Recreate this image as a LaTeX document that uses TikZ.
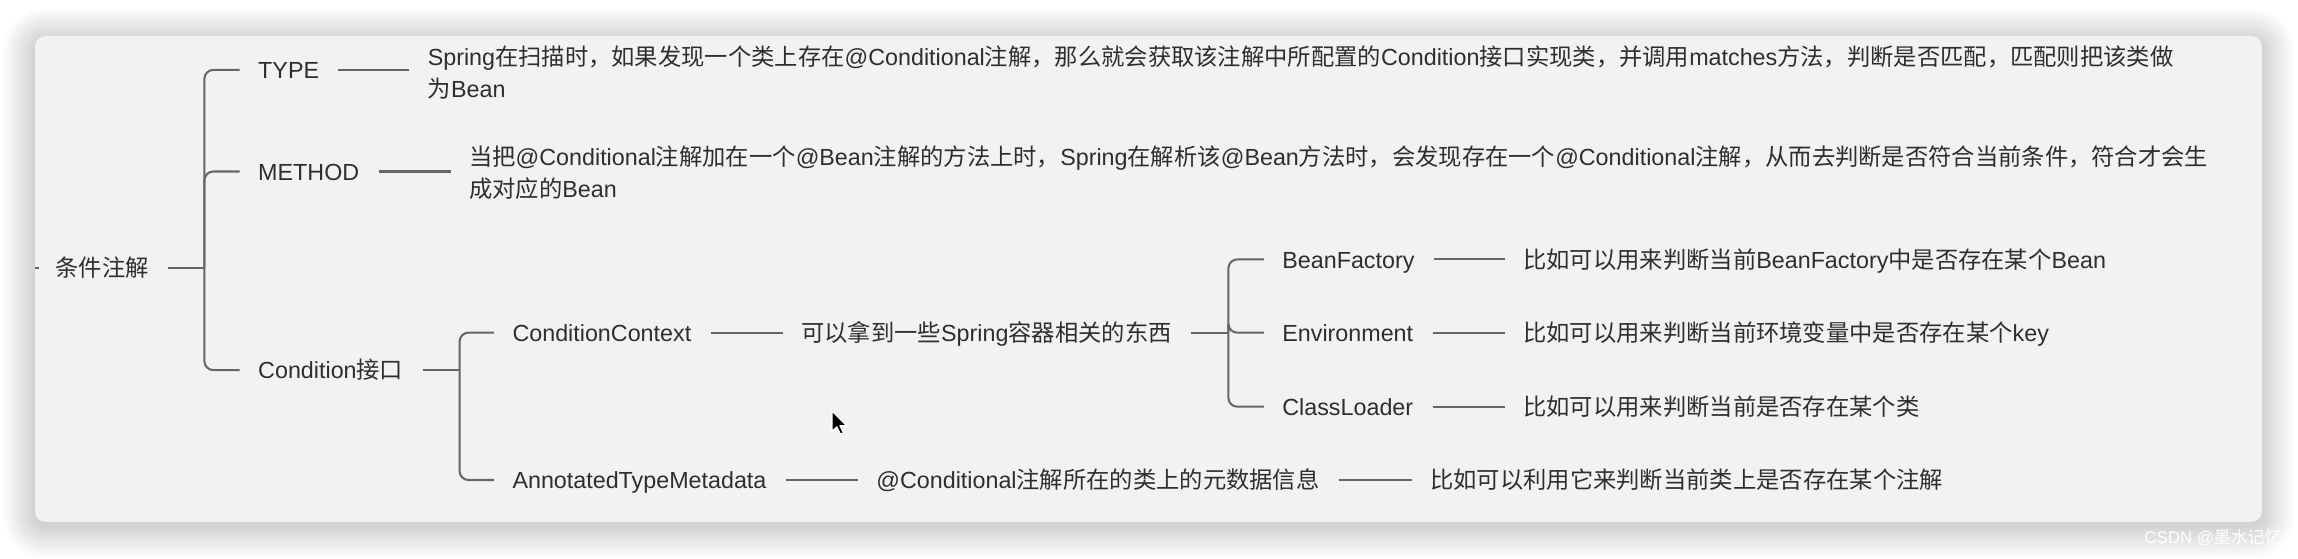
\documentclass[tikz,border=0pt]{standalone}
\usepackage{fontspec}
\setmainfont{Liberation Sans}
\newfontfamily\cjk{Noto Sans CJK SC}
\newcommand\C[1]{{\cjk #1}}
\definecolor{cardbg}{HTML}{F2F2F2}
\definecolor{txt}{HTML}{2E2E2E}
\definecolor{ln}{HTML}{666666}
\tikzset{
  lbl/.style={inner sep=0pt, anchor=west, text=txt, text height=12pt, text depth=0pt,
    font=\fontsize{15.9pt}{21.6pt}\selectfont},
  lbltwo/.style={inner sep=0pt, anchor=base west, text=txt, align=left, text width=1240pt,
    font=\fontsize{15.9pt}{21.6pt}\selectfont},
  conn/.style={draw=ln, line width=1.4pt, shorten <=13pt, shorten >=12.5pt},
  brk/.style={draw=ln, line width=1.4pt, rounded corners=6pt, shorten >=12.5pt},
  stub/.style={draw=ln, line width=1.4pt, shorten <=13pt},
}
\begin{document}
\begin{tikzpicture}[x=1pt,y=-1pt]
\useasboundingbox (0,0) rectangle (1568,381);
\fill[white] (0,0) rectangle (1568,381);
% soft shadow
\foreach \i in {1,...,22}{
  \fill[black, opacity=0.0095, rounded corners={(7+\i)*1pt}]
    (24-\i, 27.6-\i) rectangle (1543.3+\i, 359+\i);
}
% card
\fill[cardbg, rounded corners=7pt] (24,24.6) rectangle (1543.3,356);
% watermark
\node[inner sep=0pt, anchor=west, text=white, font=\fontsize{11.5pt}{12pt}\selectfont] (wm) at (1463,367) {CSDN @\C{墨水记忆}};
% nodes
\node[lbl] (root) at (37.6,183) {\C{条件注解}};
\node[lbl] (type) at (176,47.7) {TYPE};
\node[lbl] (method) at (176,117) {METHOD};
\node[lbl] (cond) at (176,252.5) {Condition\C{接口}};
\node[lbltwo] (typed) at (291.7,44.7) {Spring\C{在扫描时，如果发现一个类上存在}@Conditional\C{注解，那么就会获取该注解中所配置的}Condition\C{接口实现类，并调用}matches\C{方法，判断是否匹配，匹配则把该类做}\\\C{为}Bean};
\node[lbltwo] (methodd) at (319.9,112.9) {\C{当把}@Conditional\C{注解加在一个}@Bean\C{注解的方法上时，}Spring\C{在解析该}@Bean\C{方法时，会发现存在一个}@Conditional\C{注解，从而去判断是否符合当前条件，符合才会生}\\\C{成对应的}Bean};
\node[lbl] (cctx) at (349.5,227) {ConditionContext};
\node[lbl] (atm) at (349.5,327.5) {AnnotatedTypeMetadata};
\node[lbl] (cctxd) at (546.6,227) {\C{可以拿到一些}Spring\C{容器相关的东西}};
\node[lbl] (atmd) at (597.8,327.5) {@Conditional\C{注解所在的类上的元数据信息}};
\node[lbl] (atmdd) at (975.7,327.5) {\C{比如可以利用它来判断当前类上是否存在某个注解}};
\node[lbl] (bf) at (874.8,177) {BeanFactory};
\node[lbl] (env) at (874.8,227) {Environment};
\node[lbl] (cl) at (874.8,277.5) {ClassLoader};
\node[lbl] (bfd) at (1039.2,177) {\C{比如可以用来判断当前}BeanFactory\C{中是否存在某个}Bean};
\node[lbl] (envd) at (1039.2,227) {\C{比如可以用来判断当前环境变量中是否存在某个}key};
\node[lbl] (cld) at (1039.2,277.5) {\C{比如可以用来判断当前是否存在某个类}};
% junctions
\coordinate (tick) at (24,183);
\coordinate (j1) at (139.5,183);
\coordinate (j2) at (313.6,252.5);
\coordinate (j3) at (838.2,227);
% connectors
\draw[draw=ln, line width=1.4pt, shorten >=11pt] (tick) -- (root.west);
\draw[stub] (root.east) -- (j1);
\draw[brk] (j1) |- (type.west);
\draw[brk] (j1) |- (method.west);
\draw[brk] (j1) |- (cond.west);
\draw[conn] (type.east) -- (type.east -| typed.west);
\draw[conn] (method.east) -- (method.east -| methodd.west);
\draw[stub] (cond.east) -- (j2);
\draw[brk] (j2) |- (cctx.west);
\draw[brk] (j2) |- (atm.west);
\draw[conn] (cctx) -- (cctxd);
\draw[stub] (cctxd.east) -- (j3);
\draw[brk] (j3) |- (bf.west);
\draw[brk] (j3) |- (env.west);
\draw[brk] (j3) |- (cl.west);
\draw[conn] (bf) -- (bfd);
\draw[conn] (env) -- (envd);
\draw[conn] (cl) -- (cld);
\draw[conn] (atm) -- (atmd);
\draw[conn] (atmd) -- (atmdd);
% mouse cursor
\draw[fill=black, draw=white, line width=0.8pt, line join=round]
  (567.7,280.4) -- ++(0,14) -- ++(3.3,-3.2) -- ++(2.5,5) -- ++(2,-0.9) -- ++(-2.4,-4.9) -- ++(4.6,0) -- cycle;
\end{tikzpicture}
\end{document}
